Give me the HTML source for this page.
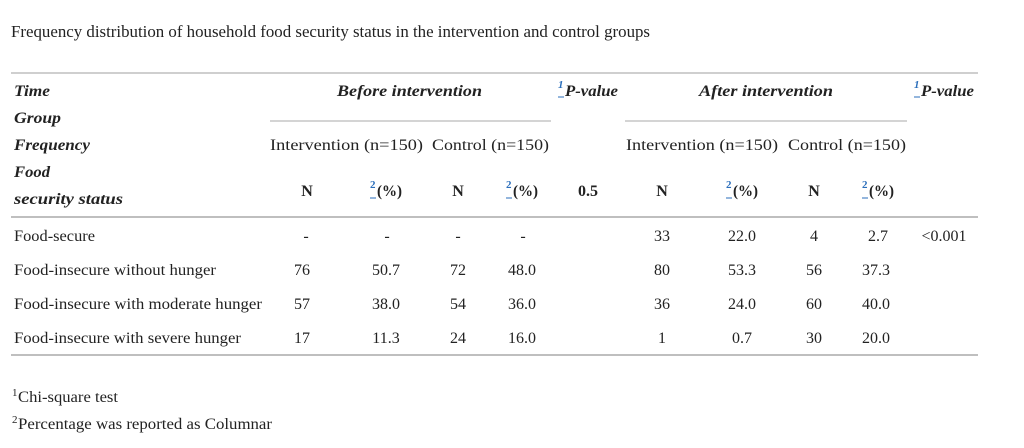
<!DOCTYPE html>
<html><head><meta charset="utf-8">
<style>
html,body{margin:0;padding:0;background:#fff;}
svg{display:block;}
text{font-family:"Liberation Serif",serif;fill:#222;}
.h{font-weight:bold;font-style:italic;font-size:16px;}
.b{font-weight:bold;font-size:16px;}
.r{font-size:16px;}
.sup{font-size:11px;fill:#2a6ebb;font-weight:bold;}
</style></head>
<body>
<svg width="1024" height="448" viewBox="0 0 1024 448" xmlns="http://www.w3.org/2000/svg">
<rect width="1024" height="448" fill="#fff"/>
<text x="11" y="37" style="font-size:16.5px" textLength="639" lengthAdjust="spacingAndGlyphs">Frequency distribution of household food security status in the intervention and control groups</text>

<line x1="11" y1="73" x2="978" y2="73" stroke="#cfcfcf" stroke-width="2"/>
<line x1="270" y1="121" x2="551" y2="121" stroke="#aaa" stroke-width="1"/>
<line x1="625" y1="121" x2="907" y2="121" stroke="#aaa" stroke-width="1"/>
<line x1="11" y1="217" x2="978" y2="217" stroke="#999" stroke-width="1.3"/>
<line x1="11" y1="355" x2="978" y2="355" stroke="#999" stroke-width="1.3"/>

<!-- left header -->
<text class="h" x="14" y="96" textLength="36" lengthAdjust="spacingAndGlyphs">Time</text>
<text class="h" x="14" y="123" textLength="47" lengthAdjust="spacingAndGlyphs">Group</text>
<text class="h" x="14" y="150" textLength="76" lengthAdjust="spacingAndGlyphs">Frequency</text>
<text class="h" x="14" y="177" textLength="36" lengthAdjust="spacingAndGlyphs">Food</text>
<text class="h" x="14" y="204" textLength="109" lengthAdjust="spacingAndGlyphs">security status</text>

<text class="h" x="337" y="96" textLength="145" lengthAdjust="spacingAndGlyphs">Before intervention</text>
<text class="sup" x="558" y="88" style="font-style:italic">1</text>
<line x1="558" y1="97" x2="564" y2="97" stroke="#2a6ebb" stroke-width="1"/>
<text class="h" x="565" y="96" textLength="53" lengthAdjust="spacingAndGlyphs">P-value</text>
<text class="h" x="699" y="96" textLength="134" lengthAdjust="spacingAndGlyphs">After intervention</text>
<text class="sup" x="914" y="88" style="font-style:italic">1</text>
<line x1="914" y1="97" x2="920" y2="97" stroke="#2a6ebb" stroke-width="1"/>
<text class="h" x="921" y="96" textLength="53" lengthAdjust="spacingAndGlyphs">P-value</text>

<text class="r" x="270" y="150" textLength="153" lengthAdjust="spacingAndGlyphs">Intervention (n=150)</text>
<text class="r" x="432" y="150" textLength="117" lengthAdjust="spacingAndGlyphs">Control (n=150)</text>
<text class="r" x="626" y="150" textLength="152" lengthAdjust="spacingAndGlyphs">Intervention (n=150)</text>
<text class="r" x="788" y="150" textLength="118" lengthAdjust="spacingAndGlyphs">Control (n=150)</text>

<!-- N / % row -->
<g text-anchor="middle">
<text class="b" x="307" y="196">N</text>
<text class="b" x="458" y="196">N</text>
<text class="b" x="662" y="196">N</text>
<text class="b" x="814" y="196">N</text>
<text class="b" x="588" y="196">0.5</text>
</g>
<g>
<text class="sup" x="370" y="188">2</text><line x1="370" y1="198" x2="376" y2="198" stroke="#2a6ebb"/><text class="b" x="377" y="196" textLength="25" lengthAdjust="spacingAndGlyphs">(%)</text>
<text class="sup" x="506" y="188">2</text><line x1="506" y1="198" x2="512" y2="198" stroke="#2a6ebb"/><text class="b" x="513" y="196" textLength="25" lengthAdjust="spacingAndGlyphs">(%)</text>
<text class="sup" x="726" y="188">2</text><line x1="726" y1="198" x2="732" y2="198" stroke="#2a6ebb"/><text class="b" x="733" y="196" textLength="25" lengthAdjust="spacingAndGlyphs">(%)</text>
<text class="sup" x="862" y="188">2</text><line x1="862" y1="198" x2="868" y2="198" stroke="#2a6ebb"/><text class="b" x="869" y="196" textLength="25" lengthAdjust="spacingAndGlyphs">(%)</text>
</g>

<!-- data rows -->
<text class="r" x="14" y="241" textLength="81" lengthAdjust="spacingAndGlyphs">Food-secure</text>
<text class="r" x="14" y="275" textLength="202" lengthAdjust="spacingAndGlyphs">Food-insecure without hunger</text>
<text class="r" x="14" y="309" textLength="248" lengthAdjust="spacingAndGlyphs">Food-insecure with moderate hunger</text>
<text class="r" x="14" y="343" textLength="227" lengthAdjust="spacingAndGlyphs">Food-insecure with severe hunger</text>

<g text-anchor="middle" class="r">
<text class="r" x="306" y="241">-</text><text class="r" x="387" y="241">-</text><text class="r" x="458" y="241">-</text><text class="r" x="523" y="241">-</text>
<text class="r" x="662" y="241">33</text><text class="r" x="742" y="241">22.0</text><text class="r" x="814" y="241">4</text><text class="r" x="878" y="241">2.7</text><text class="r" x="944" y="241">&lt;0.001</text>

<text class="r" x="302" y="275">76</text><text class="r" x="386" y="275">50.7</text><text class="r" x="458" y="275">72</text><text class="r" x="522" y="275">48.0</text>
<text class="r" x="662" y="275">80</text><text class="r" x="742" y="275">53.3</text><text class="r" x="814" y="275">56</text><text class="r" x="876" y="275">37.3</text>

<text class="r" x="302" y="309">57</text><text class="r" x="386" y="309">38.0</text><text class="r" x="458" y="309">54</text><text class="r" x="522" y="309">36.0</text>
<text class="r" x="662" y="309">36</text><text class="r" x="742" y="309">24.0</text><text class="r" x="814" y="309">60</text><text class="r" x="876" y="309">40.0</text>

<text class="r" x="302" y="343">17</text><text class="r" x="386" y="343">11.3</text><text class="r" x="458" y="343">24</text><text class="r" x="522" y="343">16.0</text>
<text class="r" x="662" y="343">1</text><text class="r" x="742" y="343">0.7</text><text class="r" x="814" y="343">30</text><text class="r" x="876" y="343">20.0</text>
</g>

<!-- footnotes -->
<text x="12" y="396" style="font-size:11px">1</text>
<text class="r" x="18" y="402" textLength="100" lengthAdjust="spacingAndGlyphs">Chi-square test</text>
<text x="12" y="423" style="font-size:11px">2</text>
<text class="r" x="18" y="429" textLength="254" lengthAdjust="spacingAndGlyphs">Percentage was reported as Columnar</text>
</svg>
</body></html>
